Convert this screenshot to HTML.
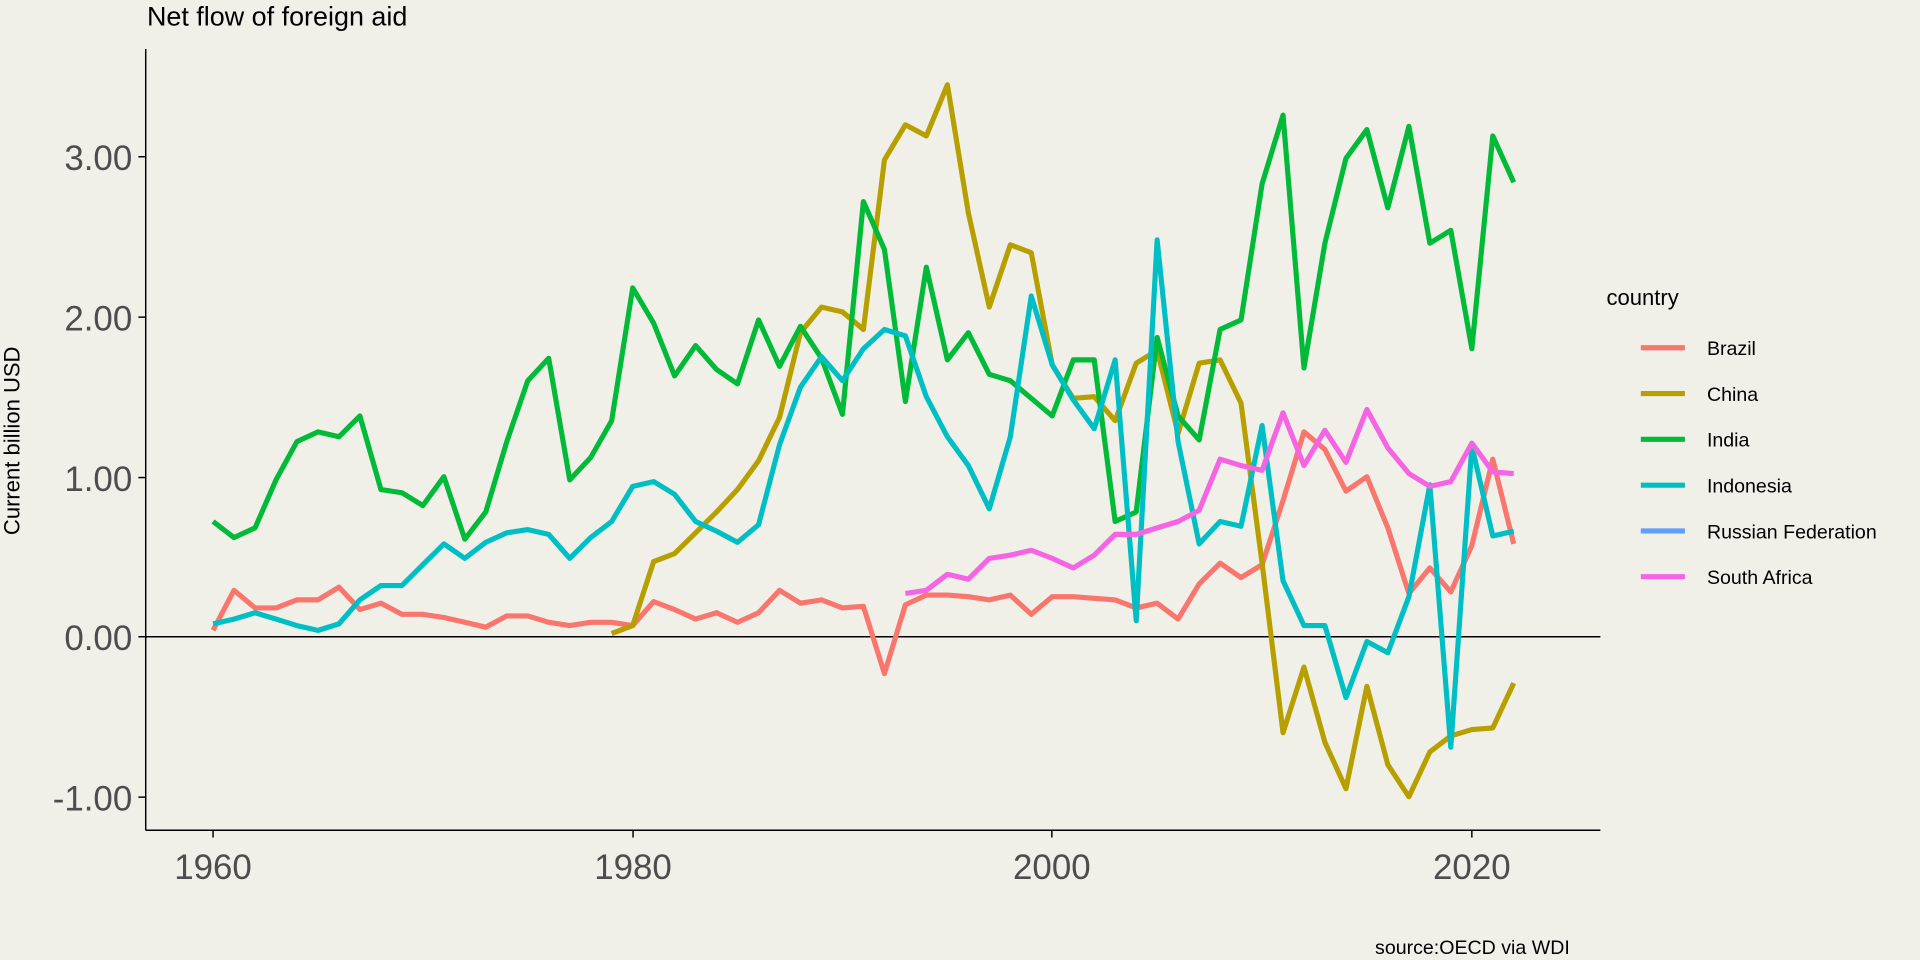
<!DOCTYPE html>
<html><head><meta charset="utf-8"><style>
html,body{margin:0;padding:0;background:#F0F0E9;}
svg{display:block}
text{font-family:"Liberation Sans",sans-serif}
</style></head><body>
<svg id="s" width="1920" height="960" viewBox="0 0 1568 784" xmlns="http://www.w3.org/2000/svg">
<rect width="1568" height="784" fill="#F0F0E9"/>
<text x="120" y="21" font-size="22" fill="#000">Net flow of foreign aid</text>
<line x1="119" y1="40" x2="119" y2="678" stroke="#000" stroke-width="1.2"/>
<line x1="119" y1="678" x2="1307" y2="678" stroke="#000" stroke-width="1.2"/>
<line x1="119" y1="520" x2="1307" y2="520" stroke="#000" stroke-width="1.3"/>
<g font-size="28.5" fill="#4d4d4d" text-anchor="end">
<text x="108" y="139">3.00</text>
<text x="108" y="270">2.00</text>
<text x="108" y="401">1.00</text>
<text x="108" y="531">0.00</text>
<text x="108" y="662">-1.00</text>
</g>
<g stroke="#000" stroke-width="1.2">
<line x1="113" y1="128" x2="119" y2="128"/><line x1="113" y1="259" x2="119" y2="259"/>
<line x1="113" y1="390" x2="119" y2="390"/><line x1="113" y1="520" x2="119" y2="520"/>
<line x1="113" y1="651" x2="119" y2="651"/>
<line x1="174" y1="678" x2="174" y2="684"/><line x1="517" y1="678" x2="517" y2="684"/>
<line x1="859" y1="678" x2="859" y2="684"/><line x1="1202" y1="678" x2="1202" y2="684"/>
</g>
<g font-size="28.5" fill="#4d4d4d" text-anchor="middle">
<text x="174" y="718">1960</text><text x="517" y="718">1980</text>
<text x="859" y="718">2000</text><text x="1202" y="718">2020</text>
</g>
<text transform="translate(16,360) rotate(-90)" font-size="18" text-anchor="middle" fill="#000">Current billion USD</text>
<text x="1282" y="779" font-size="16" text-anchor="end" fill="#000">source:OECD via WDI</text>
<g id="lines" fill="none" stroke-width="4.2" stroke-linejoin="round" stroke-linecap="butt"></g>
<text x="1312" y="249" font-size="18" fill="#000">country</text>
<g id="leg" font-size="16" fill="#000"></g>
</svg>
<script>
var D={
Brazil:[1960,"#F8766D",[.04,.29,.18,.18,.23,.23,.31,.17,.21,.14,.14,.12,.09,.06,.13,.13,.09,.07,.09,.09,.07,.22,.17,.11,.15,.09,.15,.29,.21,.23,.18,.19,-.23,.20,.26,.26,.25,.23,.26,.14,.25,.25,.24,.23,.18,.21,.11,.33,.46,.37,.45,.85,1.28,1.17,.91,1.00,.68,.27,.43,.28,.57,1.11,.58]],
China:[1979,"#B79F00",[.02,.07,.47,.52,.65,.78,.92,1.10,1.37,1.90,2.06,2.03,1.92,2.98,3.20,3.13,3.45,2.65,2.06,2.45,2.40,1.70,1.49,1.50,1.35,1.71,1.79,1.27,1.71,1.73,1.46,.46,-.60,-.19,-.66,-.95,-.31,-.80,-1.00,-.72,-.62,-.58,-.57,-.29]],
India:[1960,"#00BA38",[.72,.62,.68,.98,1.22,1.28,1.25,1.38,.92,.90,.82,1.00,.61,.78,1.22,1.60,1.74,.98,1.12,1.35,2.18,1.96,1.63,1.82,1.67,1.58,1.98,1.69,1.94,1.74,1.39,2.72,2.42,1.47,2.31,1.73,1.90,1.64,1.60,1.49,1.38,1.73,1.73,.72,.78,1.87,1.38,1.23,1.92,1.98,2.83,3.26,1.68,2.46,2.99,3.17,2.68,3.19,2.46,2.54,1.80,3.13,2.84]],
Indonesia:[1960,"#00BFC4",[.08,.11,.15,.11,.07,.04,.08,.23,.32,.32,.45,.58,.49,.59,.65,.67,.64,.49,.62,.72,.94,.97,.89,.72,.66,.59,.70,1.20,1.56,1.75,1.60,1.80,1.92,1.88,1.50,1.25,1.07,.80,1.25,2.13,1.70,1.48,1.30,1.73,.10,2.48,1.22,.58,.72,.69,1.32,.35,.07,.07,-.38,-.03,-.10,.25,.95,-.69,1.19,.63,.66]],
"Russian Federation":[1960,"#619CFF",[]],
"South Africa":[1993,"#F564E3",[.27,.29,.39,.36,.49,.51,.54,.49,.43,.51,.64,.64,.68,.72,.79,1.11,1.07,1.04,1.40,1.07,1.29,1.09,1.42,1.18,1.02,.94,.97,1.21,1.03,1.02]]
};
var ns="http://www.w3.org/2000/svg",g=document.getElementById("lines"),lg=document.getElementById("leg"),i=0;
for(var k in D){var s=D[k],d="";
s[2].forEach(function(v,j){var x=174+(s[0]+j-1960)*17.133,y=520-v*130.67;d+=(j?"L":"M")+x.toFixed(1)+" "+y.toFixed(1);});
if(d){var p=document.createElementNS(ns,"path");p.setAttribute("d",d);p.setAttribute("stroke",s[1]);g.appendChild(p);}
var yy=284+i*37.4;var l=document.createElementNS(ns,"line");l.setAttribute("x1",1340);l.setAttribute("x2",1376);l.setAttribute("y1",yy);l.setAttribute("y2",yy);l.setAttribute("stroke",s[1]);l.setAttribute("stroke-width",4.2);lg.appendChild(l);
var t=document.createElementNS(ns,"text");t.setAttribute("x",1394);t.setAttribute("y",yy+6);t.textContent=k;lg.appendChild(t);i++;}
</script>
</body></html>
